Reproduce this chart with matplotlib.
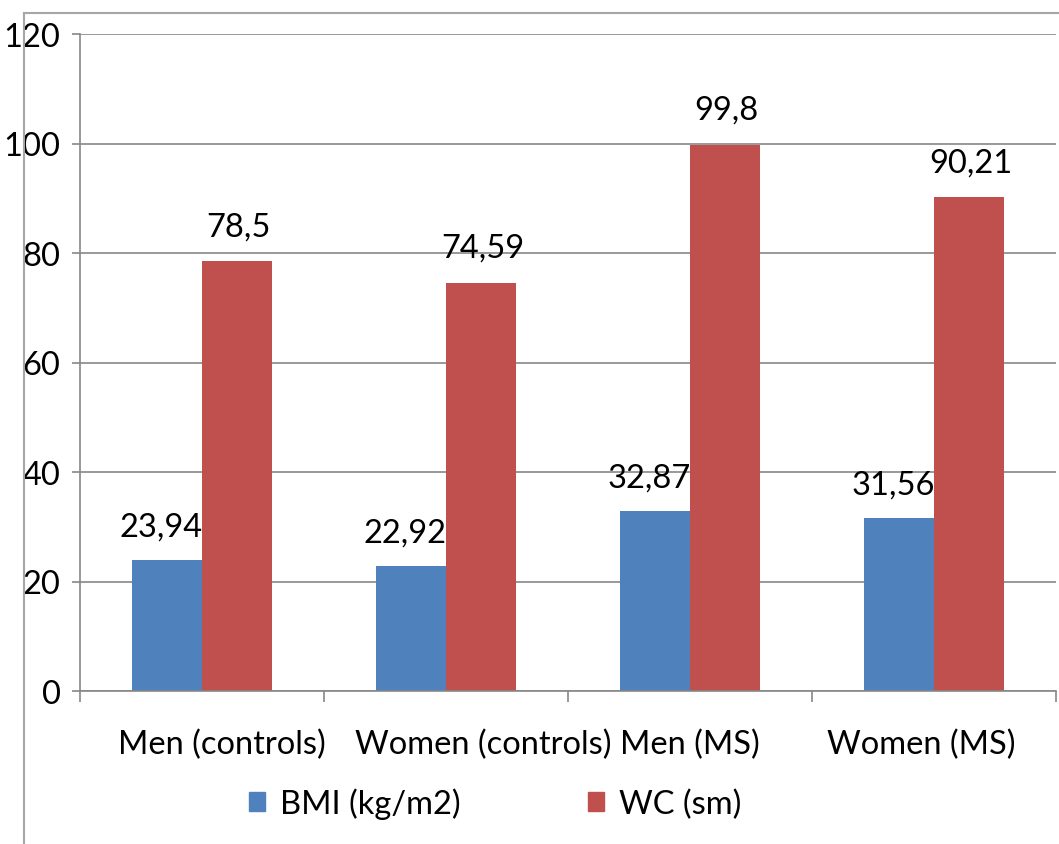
import matplotlib.pyplot as plt
from matplotlib.lines import Line2D
from matplotlib.patches import Patch
import numpy as np

# datos
grupos = ["Men (controls)", "Women (controls)", "Men (MS)", "Women (MS)"]
bmi = [23.94, 22.92, 32.87, 31.56]
wc = [78.5, 74.59, 99.8, 90.21]
etiquetas_bmi = ["23,94", "22,92", "32,87", "31,56"]
etiquetas_wc = ["78,5", "74,59", "99,8", "90,21"]
series = ["BMI (kg/m2)", "WC (sm)"]

AZUL = "#4F81BD"
ROJO = "#C0504D"
GRIS = "#878787"
FUENTE = "Lato"
TAM = 23.5

fig = plt.figure(figsize=(10.59, 8.45), dpi=100)
ax = fig.add_axes([80 / 1059, 1 - 692 / 845, 976 / 1059, 657 / 845])

x = np.arange(len(grupos))
ancho = 0.287
ax.bar(x - ancho / 2, bmi, ancho, color=AZUL, zorder=3)
ax.bar(x + ancho / 2, wc, ancho, color=ROJO, zorder=3)

for i in range(len(grupos)):
    ax.annotate(etiquetas_bmi[i], (x[i] - ancho / 2, bmi[i]), xytext=(-4, 24),
                textcoords="offset points", ha="center", va="center",
                fontsize=TAM, family=FUENTE)
    ax.annotate(etiquetas_wc[i], (x[i] + ancho / 2, wc[i]), xytext=(1, 25),
                textcoords="offset points", ha="center", va="center",
                fontsize=TAM, family=FUENTE)

# etiquetas de categoria, desplazadas como en Excel para que no se pisen
desplaz = [14, 27, 0, -9]
for i in range(len(grupos)):
    ax.annotate(grupos[i], (x[i], 0), xycoords=("data", "axes fraction"),
                xytext=(desplaz[i], -38), textcoords="offset points",
                ha="center", va="center", fontsize=TAM, family=FUENTE)

ax.set_xlim(-0.5, len(grupos) - 0.5)
ax.set_ylim(0, 120)
ax.set_yticks(range(0, 121, 20))
ax.yaxis.grid(True, color=GRIS, linewidth=1.2, zorder=0)
ax.set_xticks(np.arange(-0.5, len(grupos)))
ax.set_xticklabels([])
ax.tick_params(axis="x", length=8, width=1.2, color=GRIS)
ax.tick_params(axis="y", length=6, width=1.2, color=GRIS, pad=8)
for t in ax.get_yticklabels():
    t.set_fontsize(TAM)
    t.set_family(FUENTE)

for lado in ["top", "right"]:
    ax.spines[lado].set_visible(False)
for lado in ["left", "bottom"]:
    ax.spines[lado].set_color(GRIS)
    ax.spines[lado].set_linewidth(1.2)
ax.spines["bottom"].set_zorder(4)

# borde exterior del grafico
fig.add_artist(Line2D([24 / 1059, 1.0], [1 - 14 / 845] * 2, color="#a6a6a6", lw=1.5))
fig.add_artist(Line2D([24 / 1059] * 2, [0, 1 - 14 / 845], color="#a6a6a6", lw=1.5))

manejadores = [Patch(color=AZUL), Patch(color=ROJO)]
fig.legend(manejadores, series, loc="center", bbox_to_anchor=(495 / 1059, 1 - 804 / 845),
           ncol=2, frameon=False, prop={"family": FUENTE, "size": TAM},
           handlelength=0.5, handleheight=0.5, handletextpad=0.45, columnspacing=3.9)

fig.savefig("out.png", dpi=100)
